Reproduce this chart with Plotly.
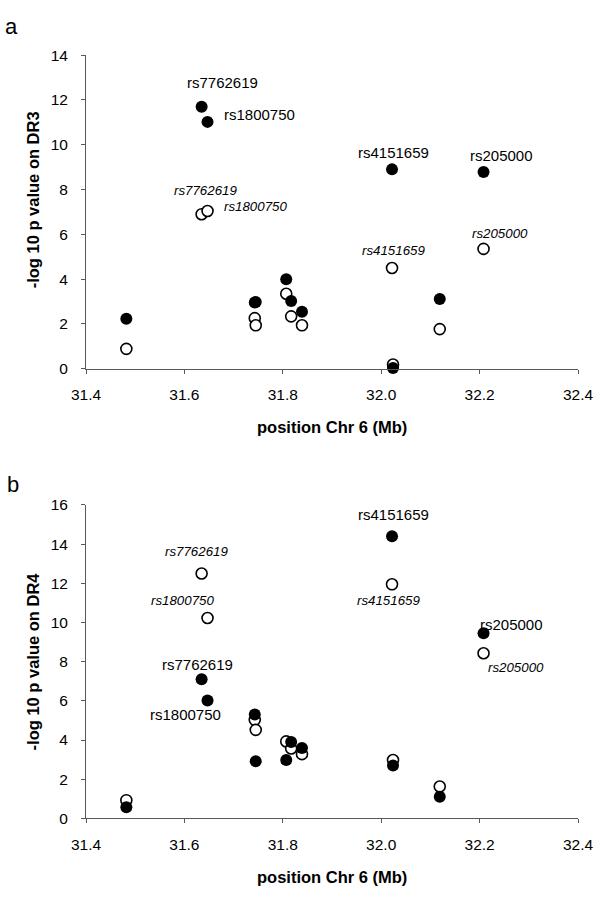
import plotly.graph_objects as go

# ---- data ----
positions = [31.482, 31.635, 31.647, 31.743, 31.745, 31.807, 31.817, 31.839, 32.022, 32.024, 32.119, 32.208]
dr3_filled = [2.23, 11.70, 11.02, 2.96, 2.98, 4.00, 3.02, 2.55, 8.90, 0.03, 3.11, 8.78]
dr3_open = [0.89, 6.90, 7.04, 2.26, 1.94, 3.35, 2.34, 1.94, 4.50, 0.19, 1.77, 5.35]
dr4_filled = [0.57, 7.10, 6.02, 5.30, 2.92, 2.98, 3.90, 3.60, 14.40, 2.70, 1.10, 9.45]
dr4_open = [0.93, 12.50, 10.23, 5.03, 4.52, 3.93, 3.57, 3.28, 11.95, 2.98, 1.63, 8.43]

x_ticks = [31.4, 31.6, 31.8, 32.0, 32.2, 32.4]
y_ticks_a = [0, 2, 4, 6, 8, 10, 12, 14]
y_ticks_b = [0, 2, 4, 6, 8, 10, 12, 14, 16]

labels_a_filled = [("rs7762619", 31.678, 12.76), ("rs1800750", 31.753, 11.35),
                   ("rs4151659", 32.026, 9.67), ("rs205000", 32.245, 9.52)]
labels_a_open = [("rs7762619", 31.642, 7.95), ("rs1800750", 31.745, 7.25),
                 ("rs4151659", 32.024, 5.29), ("rs205000", 32.241, 6.02)]
labels_b_filled = [("rs4151659", 32.026, 15.49), ("rs205000", 32.265, 9.91),
                   ("rs7762619", 31.627, 7.85), ("rs1800750", 31.603, 5.31)]
labels_b_open = [("rs7762619", 31.625, 13.62), ("rs1800750", 31.597, 11.11),
                 ("rs4151659", 32.015, 11.11), ("rs205000", 32.274, 7.72)]

FONT = "Arial, Liberation Sans, sans-serif"
AXC = "#595959"

fig = go.Figure()

open_marker = dict(symbol="circle", size=11, color="white", line=dict(color="black", width=1.6))
filled_marker = dict(symbol="circle", size=12, color="black", line=dict(color="black", width=0))

fig.add_trace(go.Scatter(x=positions, y=dr3_open, mode="markers", marker=open_marker,
                         xaxis="x", yaxis="y", cliponaxis=False, showlegend=False))
fig.add_trace(go.Scatter(x=positions, y=dr3_filled, mode="markers", marker=filled_marker,
                         xaxis="x", yaxis="y", cliponaxis=False, showlegend=False))
fig.add_trace(go.Scatter(x=positions, y=dr4_open, mode="markers", marker=open_marker,
                         xaxis="x2", yaxis="y2", cliponaxis=False, showlegend=False))
fig.add_trace(go.Scatter(x=positions, y=dr4_filled, mode="markers", marker=filled_marker,
                         xaxis="x2", yaxis="y2", cliponaxis=False, showlegend=False))

H = 900.0
W = 603.0
L, R = 86, 25
def py(px):
    return 1 - px / H
def pxp(px):
    return (px - L) / (W - L - R)

common_x = dict(range=[31.4, 32.4], tickvals=x_ticks, tickformat=".1f", showline=True,
                linecolor=AXC, linewidth=1, ticks="outside", ticklen=4, tickcolor=AXC,
                showgrid=False, zeroline=False, tickfont=dict(family=FONT, size=15.5, color="black"),
                ticklabelstandoff=8)
common_y = dict(showline=True, linecolor=AXC, linewidth=1, ticks="outside", ticklen=4,
                tickcolor=AXC, showgrid=False, zeroline=False,
                tickfont=dict(family=FONT, size=15.5, color="black"), ticklabelstandoff=10)

fig.update_layout(
    width=603, height=900,
    margin=dict(l=L, r=R, t=0, b=0),
    paper_bgcolor="white", plot_bgcolor="white",
    xaxis=dict(domain=[0, 1], anchor="y", **common_x),
    yaxis=dict(domain=[py(366.7), py(47)], anchor="x", range=[0, 14], tickvals=y_ticks_a, **common_y),
    xaxis2=dict(domain=[0, 1], anchor="y2", **common_x),
    yaxis2=dict(domain=[py(825), py(505.5)], anchor="x2", range=[0, 16], tickvals=y_ticks_b, **common_y),
)

ann = []
for txt, x, y in labels_a_filled:
    ann.append(dict(text=txt, x=x, y=y, xref="x", yref="y", showarrow=False,
                    font=dict(family=FONT, size=15, color="black")))
for txt, x, y in labels_a_open:
    ann.append(dict(text="<i>" + txt + "</i>", x=x, y=y, xref="x", yref="y", showarrow=False,
                    font=dict(family=FONT, size=13.3, color="black")))
for txt, x, y in labels_b_filled:
    ann.append(dict(text=txt, x=x, y=y, xref="x2", yref="y2", showarrow=False,
                    font=dict(family=FONT, size=15, color="black")))
for txt, x, y in labels_b_open:
    ann.append(dict(text="<i>" + txt + "</i>", x=x, y=y, xref="x2", yref="y2", showarrow=False,
                    font=dict(family=FONT, size=13.3, color="black")))

title_font = dict(family=FONT, size=16.5, color="black")
ann += [
    dict(text="<b>position Chr 6 (Mb)</b>", x=0.5, y=py(426), xref="paper", yref="paper",
         showarrow=False, xanchor="center", yanchor="middle", font=title_font),
    dict(text="<b>position Chr 6 (Mb)</b>", x=0.5, y=py(885), xref="paper", yref="paper",
         showarrow=False, xanchor="center", yanchor="middle", font=title_font),
    dict(text="<b>-log 10 p value on DR3</b>", x=pxp(33), y=py(195), xref="paper", yref="paper",
         showarrow=False, xanchor="center", yanchor="middle", textangle=-90, font=title_font),
    dict(text="<b>-log 10 p value on DR4</b>", x=pxp(33), y=py(665), xref="paper", yref="paper",
         showarrow=False, xanchor="center", yanchor="middle", textangle=-90, font=title_font),
    dict(text="a", x=pxp(11), y=py(18), xref="paper", yref="paper", showarrow=False,
         xanchor="center", yanchor="middle", font=dict(family=FONT, size=22, color="black")),
    dict(text="b", x=pxp(13), y=py(485), xref="paper", yref="paper", showarrow=False,
         xanchor="center", yanchor="middle", font=dict(family=FONT, size=22, color="black")),
]
fig.update_layout(annotations=ann)

fig.write_html("out.html", config={"displayModeBar": False},
               post_script="document.body.style.margin='0';document.body.style.overflow='hidden';")
